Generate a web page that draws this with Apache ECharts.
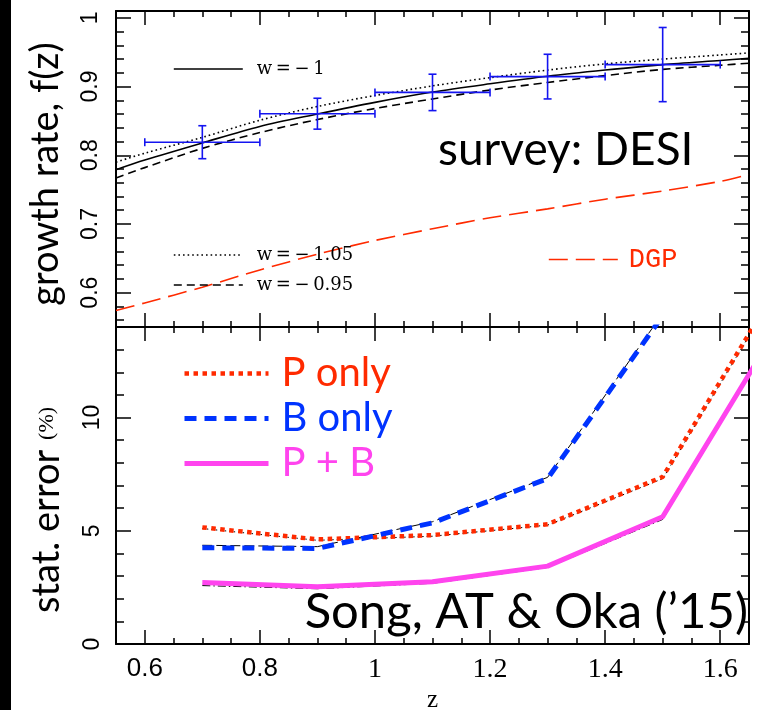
<!DOCTYPE html>
<html>
<head>
<meta charset="utf-8">
<script src="https://cdn.jsdelivr.net/npm/echarts@6/dist/echarts.min.js"></script>
<style>
  html, body { margin: 0; padding: 0; background: #fff; }
  #chart { width: 758px; height: 710px; }
</style>
</head>
<body>
<div id="chart"></div>
<script>
// ---- growth rate f(z) for three dark-energy models and DGP ----
const zCurve = [0.55, 0.6, 0.7, 0.8, 0.9, 1.0, 1.1, 1.2, 1.3, 1.4, 1.5, 1.6, 1.65];
const fW100  = [0.779, 0.793, 0.818, 0.842, 0.860, 0.877, 0.892, 0.904, 0.915, 0.924, 0.932, 0.938, 0.941];
const fW105  = [0.790, 0.803, 0.826, 0.851, 0.871, 0.887, 0.901, 0.913, 0.924, 0.933, 0.940, 0.946, 0.949];
const fW095  = [0.767, 0.782, 0.810, 0.833, 0.852, 0.868, 0.882, 0.895, 0.906, 0.916, 0.925, 0.931, 0.934];
const fDGP   = [0.574, 0.585, 0.608, 0.633, 0.656, 0.676, 0.693, 0.709, 0.722, 0.736, 0.748, 0.762, 0.772];

// ---- forecast measurements (bin centre, f, error, bin half-width) ----
const zBin     = [0.7, 0.9, 1.1, 1.3, 1.5];
const fMeas    = [0.819, 0.8605, 0.8915, 0.9145, 0.932];
const fErr     = [0.024, 0.0225, 0.0265, 0.0325, 0.054];
const zHalfBin = [0.1, 0.1, 0.1, 0.1, 0.1];

// ---- statistical error (%) on f ----
const zStat      = [0.7, 0.9, 1.1, 1.3, 1.5, 1.7];
const errP       = [5.15, 4.62, 4.81, 5.29, 7.38, 15.8];
const errB       = [4.25, 4.22, 5.35, 7.31, 14.5];
const errPB      = [2.72, 2.53, 2.75, 3.44, 5.62, 14.0];
const errPref    = [5.10, 4.58, 4.76, 5.25, 7.30, 15.7];
const errBref    = [4.36, 4.30, 5.40, 7.36, 14.6];
const errPBref   = [2.58, 2.44, 2.68, 3.38, 5.50, 13.9];

// ---- axis ticks ----
const xMajor = [0.6, 0.8, 1.0, 1.2, 1.4, 1.6];
const xMajorText = ['0.6', '0.8', '1', '1.2', '1.4', '1.6'];
const xMinor = [0.65, 0.7, 0.75, 0.85, 0.9, 0.95, 1.05, 1.1, 1.15, 1.25, 1.3, 1.35, 1.45, 1.5, 1.55];
const fMajor = [0.6, 0.7, 0.8, 0.9, 1.0];
const fMajorText = ['0.6', '0.7', '0.8', '0.9', '1'];
const fMinor = [0.56, 0.58, 0.62, 0.64, 0.66, 0.68, 0.72, 0.74, 0.76, 0.78, 0.82, 0.84, 0.86, 0.88, 0.92, 0.94, 0.96, 0.98];
const eMajor = [0, 5, 10];
const eMajorText = ['0', '5', '10'];
const eMinor = [1, 2, 3, 4, 6, 7, 8, 9, 11, 12, 13];

const X_RANGE = [0.55, 1.65];
const F_RANGE = [0.55, 1.01];
const E_RANGE = [0, 14];

const RED = '#ff2a00', BLUE = '#0033ff', MAGENTA = '#ff44ee', BARBLUE = '#1414f0';
const SANS = 'Liberation Sans', SERIF = 'Liberation Serif', HUMAN = 'Lato';

const TOP = { left: 116, top: 11, width: 633, height: 316 };
const BOT = { left: 116, top: 327, width: 633, height: 317 };

function lbl(texts, vals) {
  return v => { const i = vals.findIndex(t => Math.abs(t - v) < 1e-9); return i < 0 ? '' : texts[i]; };
}

function axisCommon(range, ticks, len, showLine) {
  return {
    type: 'value', min: range[0], max: range[1],
    axisLine: { show: showLine, onZero: false, lineStyle: { color: '#000', width: 2 } },
    axisTick: { show: true, inside: true, length: len, customValues: ticks, lineStyle: { color: '#000', width: 1.5 } },
    axisLabel: { show: false },
    splitLine: { show: false }
  };
}

const grids = [TOP, TOP, BOT, BOT].map(g => Object.assign({ containLabel: false, outerBoundsMode: 'none' }, g));

const xAxes = [];
const yAxes = [];
[[0, F_RANGE, fMajor, fMinor], [2, E_RANGE, eMajor, eMinor]].forEach(([g, yr, yMaj, yMin]) => {
  // major ticks
  xAxes.push(Object.assign(axisCommon(X_RANGE, xMajor, 14, true), { gridIndex: g, position: 'bottom' }));
  xAxes.push(Object.assign(axisCommon(X_RANGE, xMajor, 14, true), { gridIndex: g, position: 'top' }));
  yAxes.push(Object.assign(axisCommon(yr, yMaj, 15, true), { gridIndex: g, position: 'left' }));
  yAxes.push(Object.assign(axisCommon(yr, yMaj, 15, true), { gridIndex: g, position: 'right' }));
  // minor ticks
  xAxes.push(Object.assign(axisCommon(X_RANGE, xMinor, 6, false), { gridIndex: g + 1, position: 'bottom' }));
  xAxes.push(Object.assign(axisCommon(X_RANGE, xMinor, 6, false), { gridIndex: g + 1, position: 'top' }));
  yAxes.push(Object.assign(axisCommon(yr, yMin, 8, false), { gridIndex: g + 1, position: 'left' }));
  yAxes.push(Object.assign(axisCommon(yr, yMin, 8, false), { gridIndex: g + 1, position: 'right' }));
});
// axes order: [0..3] top panel, [4..7] bottom panel

// tick labels on the left of each panel and below the lower panel
yAxes[0].axisLabel = {
  show: true, customValues: fMajor, rotate: 90, margin: 14,
  formatter: lbl(fMajorText, fMajor), fontFamily: SANS, fontSize: 23, color: '#000'
};
yAxes[4].axisLabel = {
  show: true, customValues: eMajor, rotate: 90, margin: 12,
  formatter: lbl(eMajorText, eMajor), fontFamily: SANS, fontSize: 23, color: '#000'
};
xAxes[4].axisLabel = {
  show: true, customValues: xMajor, margin: 12,
  formatter: v => { const t = lbl(xMajorText, xMajor)(v); return v < 0.99 ? '{s|' + t + '}' : '{r|' + t + '}'; },
  rich: {
    s: { fontFamily: SANS, fontSize: 26, color: '#000' },
    r: { fontFamily: SERIF, fontSize: 28, color: '#000' }
  }
};
xAxes[4].name = 'z';
xAxes[4].nameLocation = 'middle';
xAxes[4].nameGap = 44;
xAxes[4].nameTextStyle = { fontFamily: SERIF, fontSize: 25, color: '#000' };

const pairs = (xs, ys) => ys.map((y, i) => [xs[i], y]);

function curve(name, ys, color, width, type, xi, yi, z) {
  return {
    type: 'line', name, data: pairs(xi === 0 ? zCurve : zStat, ys),
    xAxisIndex: xi, yAxisIndex: yi, smooth: xi === 0 ? 0.3 : false,
    symbol: 'none', showSymbol: false, clip: true, z: z || 2, silent: true,
    lineStyle: { color, width, type, cap: 'butt' }, itemStyle: { color }
  };
}

const series = [
  curve('w\u2009=\u2009\u2212\u20091', fW100, '#000', 1.6, 'solid', 0, 0),
  curve('w\u2009=\u2009\u2212\u20091.05', fW105, '#000', 1.6, [1.6, 3], 0, 0),
  curve('w\u2009=\u2009\u2212\u20090.95', fW095, '#000', 1.6, [8, 5], 0, 0),
  curve('DGP', fDGP, RED, 1.6, [19, 8], 0, 0),
  {
    type: 'custom', name: 'DESI', xAxisIndex: 0, yAxisIndex: 0, z: 5, silent: true,
    data: zBin.map((z, i) => [z, fMeas[i], fErr[i], zHalfBin[i]]),
    encode: { x: 0, y: 1 },
    renderItem(params, api) {
      const z = api.value(0), f = api.value(1), e = api.value(2), h = api.value(3);
      const l = api.coord([z - h, f]), r = api.coord([z + h, f]);
      const t = api.coord([z, f + e]), b = api.coord([z, f - e]);
      const cap = 4;
      const st = { stroke: BARBLUE, lineWidth: 1.6 };
      const seg = (x1, y1, x2, y2) => ({ type: 'line', shape: { x1, y1, x2, y2 }, style: st });
      return {
        type: 'group', children: [
          seg(l[0], l[1], r[0], r[1]),
          seg(t[0], t[1], b[0], b[1]),
          seg(l[0], l[1] - cap, l[0], l[1] + cap),
          seg(r[0], r[1] - cap, r[0], r[1] + cap),
          seg(t[0] - cap, t[1], t[0] + cap, t[1]),
          seg(b[0] - cap, b[1], b[0] + cap, b[1])
        ]
      };
    }
  },
  // thin reference curves under the coloured forecasts
  curve('P ref', errPref, '#000', 1, [1.5, 3], 4, 4, 3),
  curve('B ref', errBref, '#000', 1, [10, 4], 4, 4, 3),
  curve('PB ref', errPBref, '#000', 1, [8, 3, 1.5, 3], 4, 4, 3),
  curve('P only', errP, RED, 4.5, [4.5, 4.5], 4, 4, 4),
  curve('B only', errB, BLUE, 5, [12, 8], 4, 4, 4),
  curve('P + B', errPB, MAGENTA, 5, 'solid', 4, 4, 4)
];

function legend(names, left, top, opts) {
  return Object.assign({
    data: names, left, top, padding: 0, orient: 'vertical', selectedMode: false,
    itemWidth: 69, itemHeight: 14, itemGap: 12,
    itemStyle: { opacity: 0, borderWidth: 0 },
    lineStyle: { width: 'inherit', type: 'inherit' },
    textStyle: { fontFamily: 'DejaVu Serif', fontSize: 18, color: '#000', padding: [0, 0, 0, 9] }
  }, opts || {});
}

const option = {
  animation: false,
  backgroundColor: '#fff',
  grid: grids,
  xAxis: xAxes,
  yAxis: yAxes,
  series,
  legend: [
    legend(['w\u2009=\u2009\u2212\u20091'], 173, 60),
    legend(['w\u2009=\u2009\u2212\u20091.05', 'w\u2009=\u2009\u2212\u20090.95'], 173, 246, { itemGap: 12 }),
    legend([{ name: 'DGP', textStyle: { color: RED } }], 548, 246,
      { textStyle: { fontFamily: 'Liberation Mono', fontSize: 27, color: RED, padding: [0, 0, 0, 6] } }),
    legend([
      { name: 'P only', textStyle: { color: RED } },
      { name: 'B only', textStyle: { color: BLUE } },
      { name: 'P + B', textStyle: { color: MAGENTA } }
    ], 182, 351, {
      itemWidth: 84, itemGap: 0,
      textStyle: { fontFamily: HUMAN, fontSize: 40, lineHeight: 45, padding: [0, 0, 0, 8] }
    })
  ],
  graphic: [
    { type: 'rect', left: 0, top: 0, shape: { width: 11, height: 710 }, style: { fill: '#000' }, silent: true },
    {
      type: 'text', x: 46, y: 174, rotation: Math.PI / 2, silent: true,
      style: { text: 'growth rate, f(z)', fontFamily: HUMAN, fontSize: 38, fill: '#000', align: 'center', verticalAlign: 'middle' }
    },
    {
      type: 'text', x: 47, y: 510, rotation: Math.PI / 2, silent: true,
      style: {
        text: 'stat. error {s|(%)}', fontFamily: HUMAN, fontSize: 38, fill: '#000', align: 'center', verticalAlign: 'middle',
        rich: { s: { fontFamily: SERIF, fontSize: 22, fill: '#000' } }
      }
    },
    {
      type: 'text', x: 438, y: 150, silent: true,
      style: { text: 'survey: DESI', fontFamily: HUMAN, fontSize: 46, fill: '#000', align: 'left', verticalAlign: 'middle' }
    },
    {
      type: 'text', x: 748, y: 612, silent: true,
      style: { text: 'Song, AT & Oka (\u201915)', fontFamily: HUMAN, fontSize: 49, fill: '#000', align: 'right', verticalAlign: 'middle' }
    }
  ]
};

const chart = echarts.init(document.getElementById('chart'), null, { renderer: 'canvas' });
chart.setOption(option);
</script>
</body>
</html>
